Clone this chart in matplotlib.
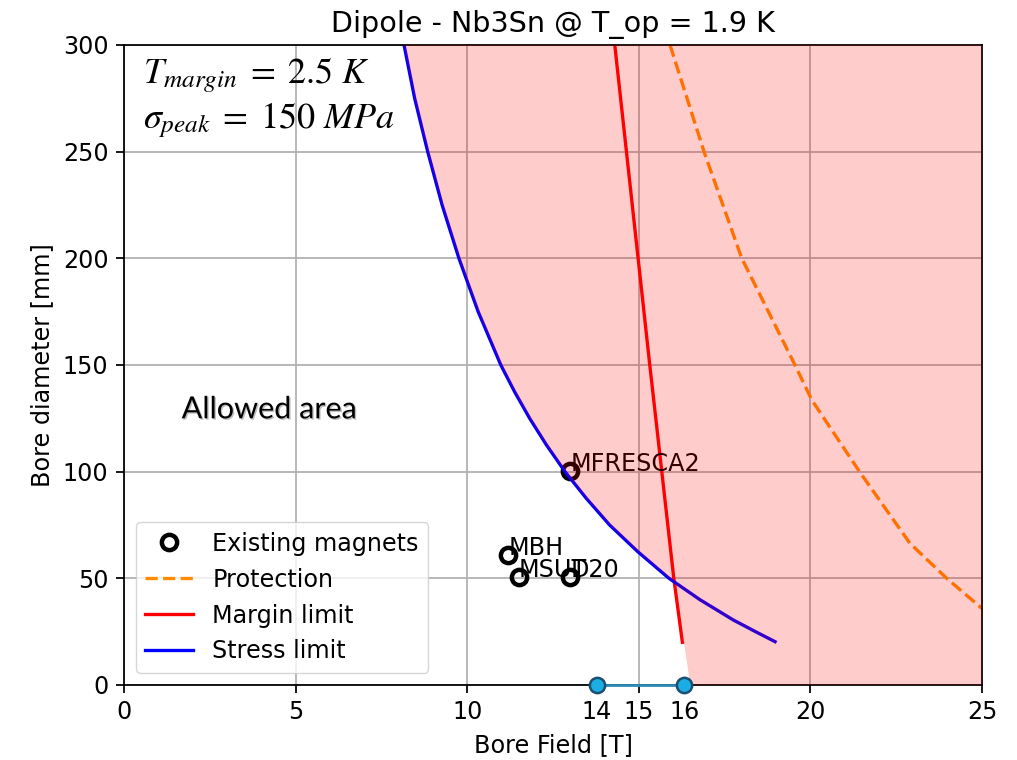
import matplotlib
matplotlib.use('Agg')
import matplotlib.pyplot as plt
import matplotlib.patheffects as pe

# scale factor: original looked like a 6.4x4.8 default figure blown up
s = 1.59
fs = 17.2
plt.rcParams.update({
    'font.size': fs,
    'axes.linewidth': 0.8 * s,
    'xtick.major.width': 0.8 * s,
    'ytick.major.width': 0.8 * s,
    'xtick.minor.width': 0.8 * s,
    'xtick.major.size': 3.5 * s,
    'ytick.major.size': 3.5 * s,
    'xtick.major.pad': 3.5 * s,
    'ytick.major.pad': 3.5 * s,
    'xtick.minor.pad': 3.5 * s,
    'axes.labelpad': 4 * s,
    'axes.titlepad': 6 * s,
    'grid.linewidth': 0.8 * s,
    'mathtext.fontset': 'stix',
})

# stress limit (blue)
stress_B = [8.16, 8.47, 8.85, 9.27, 9.76, 10.32, 10.98, 11.38, 11.82, 12.31, 12.85,
            13.47, 14.15, 14.97, 15.88, 16.78, 17.75, 18.40, 18.97]
stress_D = [300, 275, 250, 225, 200, 175, 150, 137.5, 125, 112.5, 100,
            87.5, 75, 62.5, 50, 40, 30.5, 25, 20.3]

# margin limit (red)
margin_B = [14.30, 14.64, 14.98, 15.32, 15.67, 16.02, 16.27]
margin_D = [300, 250, 200, 150, 100, 50, 20]

# protection (orange dashed)
prot_B = [15.91, 16.90, 18.0, 19.55, 20.04, 21.43, 22.9, 23.97, 24.99]
prot_D = [300, 250, 200, 150, 133.6, 100, 66.4, 50, 36]

# lower-right corner of the forbidden zone below the stress/margin crossing
edge_B = [16.06, 16.5, 25, 25]
edge_D = [47.7, 0, 0, 300]

# existing magnets
mag_names = ['MBH', 'MSUT', 'D20', 'MFRESCA2']
mag_B = [11.2, 11.5, 13.0, 13.0]
mag_D = [61, 50.5, 50.5, 100.5]

# highlighted field range drawn on the axis (as placed in the picture)
range_B = [13.78, 16.32]
range_D = [0, 0]
range_labels = ['14', '16']

fig = plt.figure(figsize=(10.17, 7.6), dpi=100)
ax = fig.add_axes([0.1219, 0.0987, 0.8437, 0.8421])

ax.grid(True)
hm, = ax.plot(mag_B, mag_D, 'o', mfc='none', mec='black', ms=11, mew=3.2,
              label='Existing magnets')
for name, b, d in zip(mag_names, mag_B, mag_D):
    ax.text(b, d, name)
hp, = ax.plot(prot_B, prot_D, '--', color='darkorange', lw=1.5 * s, label='Protection')
hr, = ax.plot(margin_B, margin_D, color='red', lw=1.5 * s, label='Margin limit')
hs, = ax.plot(stress_B, stress_D, color='blue', lw=1.5 * s, label='Stress limit')

# forbidden zone, drawn on top of everything
n = stress_D.index(50) + 1
ax.fill(stress_B[:n] + edge_B, stress_D[:n] + edge_D, color='red', alpha=0.2,
        lw=0, zorder=10)

ax.plot(range_B, range_D, '-', color='#2a8cb4', lw=2, zorder=11, clip_on=False)
ax.plot(range_B, range_D, 'o', mfc='#1cade4', mec='#1b4f72', ms=11, mew=1.8,
        zorder=12, clip_on=False)

ax.set_xlim(0, 25)
ax.set_ylim(0, 300)
ax.set_xticks([0, 5, 10, 15, 20, 25])
ax.set_xticks(range_B, minor=True)
ax.set_xticklabels(range_labels, minor=True)
ax.tick_params(axis='x', which='minor', length=3.5 * s)
ax.set_xlabel('Bore Field [T]')
ax.set_ylabel('Bore diameter [mm]')
ax.set_title('Dipole - Nb3Sn @ T_op = 1.9 K', fontsize=1.2 * fs)

ax.legend(handles=[hm, hp, hr, hs], loc='lower left')

ax.text(0.55, 282, r'$T_{margin}\;=\;2.5\ K$', fontsize=26)
ax.text(0.55, 261, r'$\sigma_{peak}\;=\;150\ MPa$', fontsize=26)
ax.text(1.68, 125, 'Allowed area', fontsize=22, family=['Lato', 'DejaVu Sans'],
        path_effects=[pe.withSimplePatchShadow(offset=(1, -1), alpha=0.25)])

fig.savefig('out.png', dpi=100)
